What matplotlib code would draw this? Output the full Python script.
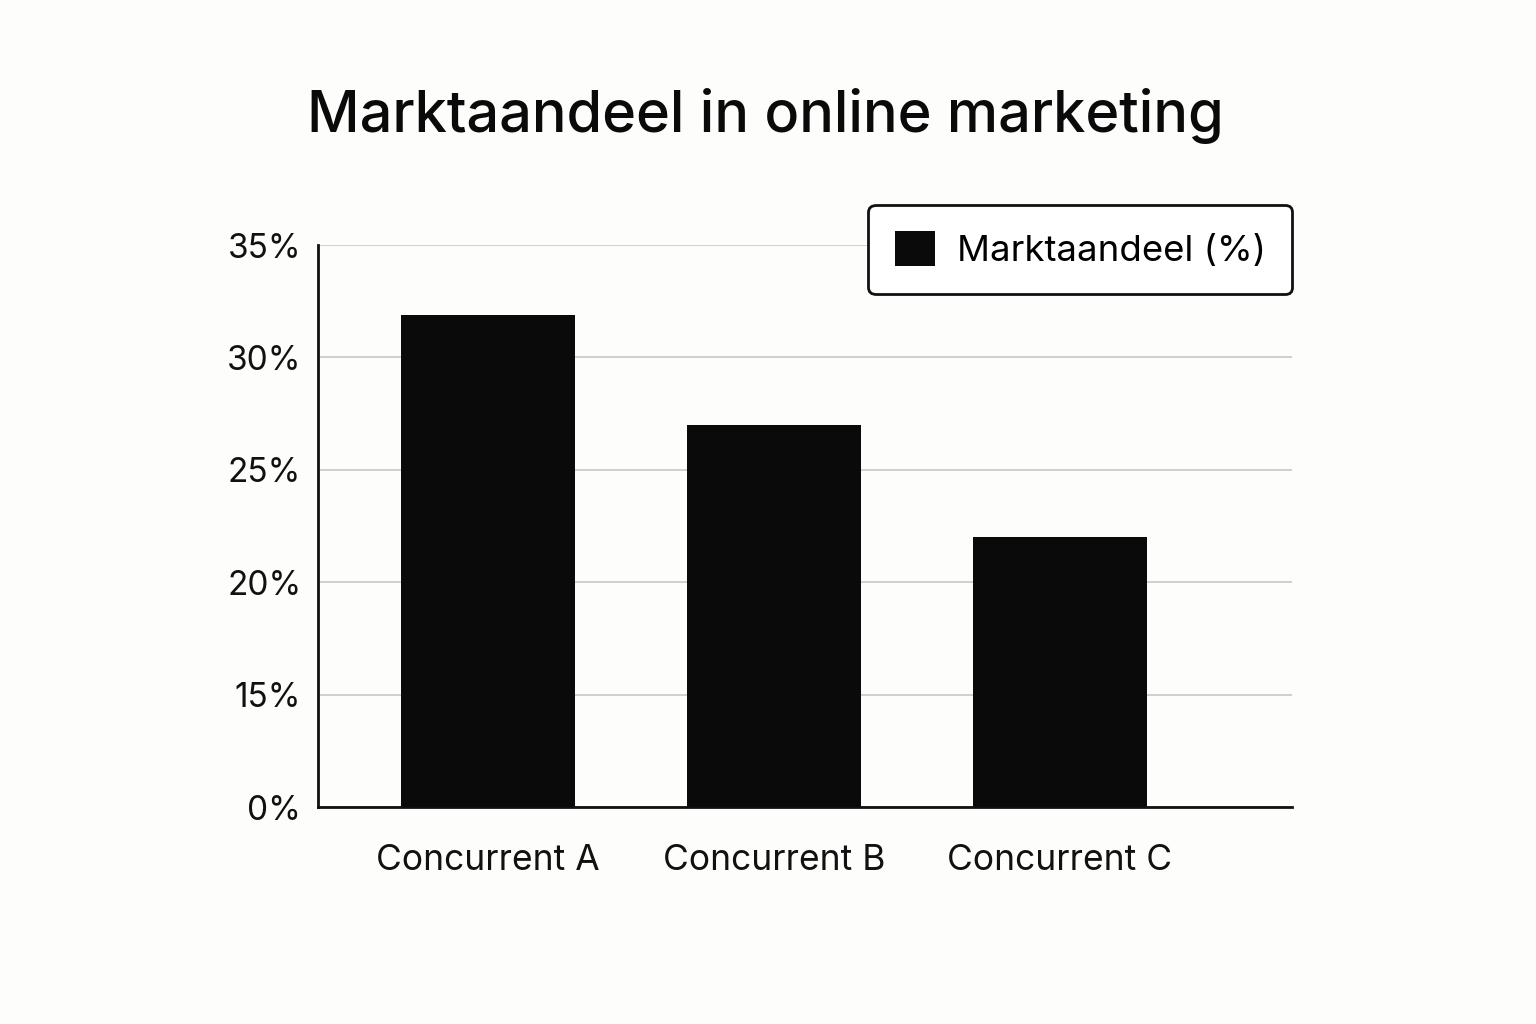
import matplotlib
matplotlib.use("Agg")
import matplotlib.pyplot as plt
import numpy as np

plt.rcParams['font.family'] = ['Inter', 'DejaVu Sans']

categories = ["Concurrent A", "Concurrent B", "Concurrent C"]
values = [31.9, 27, 22]
yticks = [0, 15, 20, 25, 30, 35]
ytick_labels = ["0%", "15%", "20%", "25%", "30%", "35%"]
title = "Marktaandeel in online marketing"
series_label = "Marktaandeel (%)"

def fwd(v):
    v = np.asarray(v, dtype=float)
    return np.where(v <= 15, v / 3.0, v - 10.0)

def inv(u):
    u = np.asarray(u, dtype=float)
    return np.where(u <= 5, u * 3.0, u + 10.0)

bg = "#fdfdfb"
fig = plt.figure(figsize=(15.36, 10.24), dpi=100, facecolor=bg)
ax = fig.add_axes([318/1536, 1-807/1024, (1292-318)/1536, (807-245)/1024])
ax.set_facecolor(bg)
ax.set_yscale('function', functions=(fwd, inv))

x = np.arange(len(categories))
ax.bar(x, values, width=0.608, color="#0a0a0a", label=series_label, zorder=3)

ax.set_xlim(-0.594, 2.811)
ax.set_ylim(0, 35)
ax.set_yticks(yticks)
ax.set_yticklabels(ytick_labels)
ax.set_xticks(x)
ax.set_xticklabels(categories)
ax.yaxis.grid(True, color="#cccccc", linewidth=1.3, zorder=0)
ax.set_axisbelow(True)
ax.tick_params(axis='both', length=0, colors="#111111")
ax.tick_params(axis='x', pad=27, labelsize=25.5)
ax.tick_params(axis='y', pad=12, labelsize=24)
for s in ['top', 'right']:
    ax.spines[s].set_visible(False)
for s in ['left', 'bottom']:
    ax.spines[s].set_linewidth(2)
    ax.spines[s].set_color("#111111")

leg = ax.legend(loc='upper right', bbox_to_anchor=(1.0, 1.072), fontsize=26.3,
                frameon=True, fancybox=True, edgecolor="#111111",
                borderpad=0.72, handlelength=1.1, handleheight=1.1,
                handletextpad=0.6, borderaxespad=0)
leg.get_frame().set_linewidth(2)
leg.get_frame().set_facecolor("white")
leg.get_frame().set_alpha(1)

fig.text(765/1536, 1-116/1024, title, ha='center', va='center',
         fontsize=41.5, fontweight='medium', color="#0a0a0a")

fig.savefig("out.png", dpi=100, facecolor=bg)
